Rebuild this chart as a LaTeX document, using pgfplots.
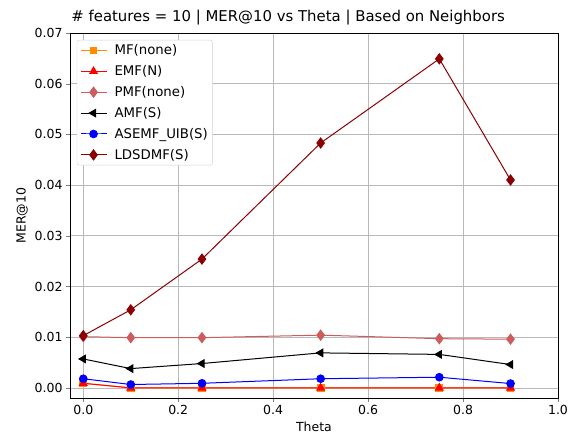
\documentclass[border=0pt]{standalone}
\usepackage{fontspec}
\setmainfont{DejaVu Sans}
\usepackage{pgfplots}
\pgfplotsset{compat=1.18}
\definecolor{mforange}{RGB}{255,140,0}
\definecolor{pmfcol}{RGB}{205,92,92}
\definecolor{ldscol}{RGB}{139,0,0}
\begin{document}
\begin{tikzpicture}
\useasboundingbox (-70pt,-43pt) rectangle (500pt,398pt);
\begin{axis}[
  scale only axis, width=488pt, height=365pt,
  xmin=-0.028, xmax=1.0, ymin=-0.002, ymax=0.07,
  xtick={0,0.2,0.4,0.6,0.8,1.0},
  ytick={0,0.01,0.02,0.03,0.04,0.05,0.06,0.07},
  scaled y ticks=false, scaled x ticks=false,
  xticklabel style={/pgf/number format/fixed, /pgf/number format/fixed zerofill, /pgf/number format/precision=1},
  yticklabel style={/pgf/number format/fixed, /pgf/number format/fixed zerofill, /pgf/number format/precision=2},
  /pgf/number format/assume math mode=true,
  tick label style={font=\fontsize{12.5}{14}\selectfont},
  label style={font=\fontsize{12.5}{14}\selectfont},
  title style={font=\fontsize{14.9}{17}\selectfont, at={(rel axis cs:0.447,1)}, yshift=-2pt},
  title={\# features = 10 | MER@10 vs Theta | Based on Neighbors},
  xlabel={Theta}, ylabel={MER@10},
  grid=major, major grid style={gray!55, line width=0.6pt},
  tick align=outside, tick pos=left,
  major tick length=4pt,
  axis line style={line width=0.8pt},
  legend style={at={(0.014,0.981)}, anchor=north west, draw=gray!35, rounded corners=2pt,
    font=\fontsize{13.3}{15}\selectfont, inner sep=3pt, row sep=6.3pt, column sep=6pt,
    nodes={inner sep=1.5pt}},
  legend cell align=left,
  legend image code/.code={\draw[mark repeat=2,mark phase=2] plot coordinates {(0pt,0pt) (13pt,0pt) (26pt,0pt)};},
  every axis plot/.append style={line width=1pt},
]
\addplot[color=mforange, mark=square*, mark size=3.4pt] coordinates {(0,0.0009) (0.1,0) (0.25,0) (0.5,0) (0.75,0) (0.9,0)};
\addlegendentry{MF(none)}
\addplot[color=red, mark=triangle*, mark size=4.3pt] coordinates {(0,0.0009) (0.1,0) (0.25,0) (0.5,0) (0.75,0) (0.9,0)};
\addlegendentry{EMF(N)}
\addplot[color=pmfcol, mark=diamond*, mark size=5pt] coordinates {(0,0.0101) (0.1,0.0099) (0.25,0.0099) (0.5,0.0104) (0.75,0.0097) (0.9,0.0096)};
\addlegendentry{PMF(none)}
\addplot[color=black, mark=triangle*, mark options={rotate=90}, mark size=4.3pt] coordinates {(0,0.0057) (0.1,0.0038) (0.25,0.0048) (0.5,0.0069) (0.75,0.0066) (0.9,0.0046)};
\addlegendentry{AMF(S)}
\addplot[color=blue, mark=*, mark size=3.8pt] coordinates {(0,0.0018) (0.1,0.00066) (0.25,0.0009) (0.5,0.0018) (0.75,0.0021) (0.9,0.00085)};
\addlegendentry{ASEMF\_UIB(S)}
\addplot[color=ldscol, mark=diamond*, mark size=5pt] coordinates {(0,0.0103) (0.1,0.0154) (0.25,0.0254) (0.5,0.0483) (0.75,0.0649) (0.9,0.0410)};
\addlegendentry{LDSDMF(S)}
\end{axis}
\end{tikzpicture}
\end{document}
